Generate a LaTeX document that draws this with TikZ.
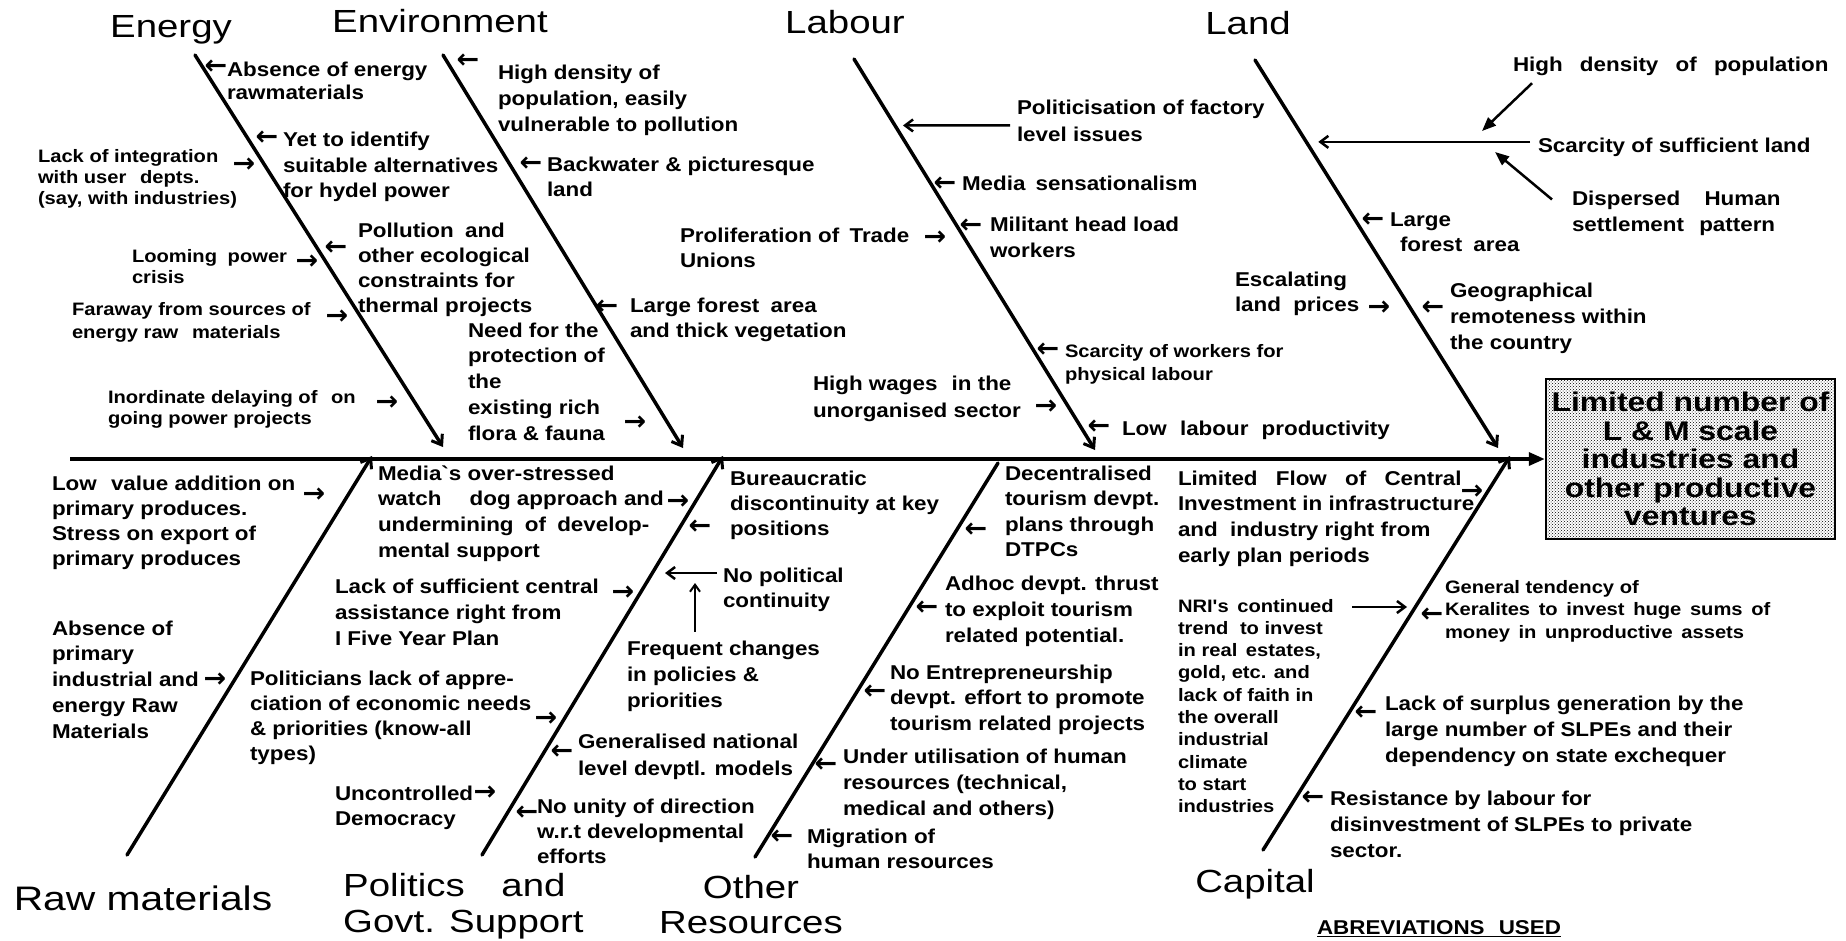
\documentclass[tikz,border=0pt]{standalone}
\usepackage{fontspec}
\setmainfont{Liberation Sans}
\newfontfamily\bodyf{Liberation Sans}[FakeStretch=1.12]
\newfontfamily\headf{Liberation Sans}[FakeStretch=1.2]
\newfontfamily\boxf{Liberation Sans}[FakeStretch=1.18]
\newfontfamily\arrf{DejaVu Sans}
\usetikzlibrary{arrows.meta,patterns}
\newcommand\nf[2]{\bodyf\bfseries\fontsize{#1}{#2}\selectfont}
\newcommand\wgap[1]{\hspace*{#1pt}}
\begin{document}
\begin{tikzpicture}[x=1pt,y=-1pt,
 bone/.style={line width=3.5pt, line cap=round},
 bonearr/.style={bone, -{Straight Barb[length=9pt,width=13pt,line width=3pt]}},
 txt/.style={anchor=north west, inner sep=0pt, outer sep=0pt, align=left},
 arrg/.style={inner sep=0pt, font=\arrf\bfseries\fontsize{27}{27}\selectfont},
 head/.style={inner sep=0pt, anchor=base, font=\headf\fontsize{32}{38}\selectfont},
 subarr/.style={line width=2.5pt, -{Straight Barb[length=8pt,width=12pt,line width=2.5pt]}},
 solidarr/.style={line width=2.5pt, -{Triangle[length=14pt,width=11pt]}},
 effect/.style={draw, line width=2.5pt, pattern=crosshatch dots, minimum width=289pt, minimum height=160pt, inner sep=0pt, align=center, font=\boxf\bfseries\fontsize{27}{28.5}\selectfont}
]
\useasboundingbox (0,0) rectangle (1846,940);

% bone end points
\coordinate (enT) at (195,55);   \coordinate (enB) at (443,447);
\coordinate (evT) at (443,55);   \coordinate (evB) at (683,448);
\coordinate (lbT) at (854,59);   \coordinate (lbB) at (1095,450);
\coordinate (ldT) at (1255,60);  \coordinate (ldB) at (1498,448);
\coordinate (rmB) at (127,855);  \coordinate (rmT) at (372,456);
\coordinate (pgB) at (482,855);  \coordinate (pgT) at (723,456);
\coordinate (orB) at (755,857);  \coordinate (orT) at (998,463);
\coordinate (cpB) at (1263,850); \coordinate (cpT) at (1510,456);

\draw[bonearr] (enT) -- (enB);
\draw[bonearr] (evT) -- (evB);
\draw[bonearr] (lbT) -- (lbB);
\draw[bonearr] (ldT) -- (ldB);
\draw[bonearr] (rmB) -- (rmT);
\draw[bonearr] (pgB) -- (pgT);
\draw[bone] (orB) -- (orT);
\draw[bonearr] (cpB) -- (cpT);

% effect box and spine
\node[effect] (eff) at (1690.5,459) {Limited number of\\L \& M scale\\industries and\\other productive\\ventures};
\coordinate (sp0) at (70,459);
\draw[line width=3.5pt, -{Triangle[length=16pt,width=13pt]}] (sp0) -- (eff.west);

% headings
\node[head] (hEn) at (171,37) {Energy};
\node[head] (hEv) at (440,32) {Environment};
\node[head] (hLb) at (845,33) {Labour};
\node[head] (hLd) at (1248,34) {Land};
\node[head, font=\headf\fontsize{34}{38}\selectfont] (hRm) at (143,910) {Raw materials};
\node[head, anchor=north west, align=left, font=\headf\fontsize{32}{36}\selectfont] (hPg) at (343,873) {Politics\wgap{26} and\\Govt. Support};
\node[head, anchor=north, align=center, font=\headf\fontsize{32}{35}\selectfont] (hOr) at (751,875) {Other\\Resources};
\node[head] (hCp) at (1255,892) {Capital};
\node[txt,font=\nf{20}{25}] (abbr) at (1317,921) {\underline{ABREVIATIONS\wgap{8} USED}};

% Energy
\node[txt,font=\nf{20}{23}] (absEn) at (227,62.5) {Absence of energy\\rawmaterials};
\node[arrg] (a1) at (216,67) {←};
\node[txt,font=\nf{20}{25.5}] (yet) at (283,132.5) {Yet to identify\\suitable alternatives\\for hydel power};
\node[arrg] (a2) at (267,138) {←};
\node[txt,font=\nf{18}{21.3}] (lint) at (38,149) {Lack of integration\\with user\wgap{8} depts.\\(say, with industries)};
\node[arrg] (a3) at (244,165) {→};
\node[txt,font=\nf{20}{25}] (poll) at (358,223.5) {Pollution\wgap{5} and\\other ecological\\constraints for\\thermal projects};
\node[arrg] (a4) at (336,248) {←};
\node[txt,font=\nf{18}{21}] (loom) at (132,249) {Looming\wgap{5} power\\crisis};
\node[arrg] (a5) at (307,262) {→};
\node[txt,font=\nf{18}{23}] (far) at (72,302) {Faraway from sources of\\energy raw\wgap{8} materials};
\node[arrg] (a6) at (337,317) {→};
\node[txt,font=\nf{18}{21}] (inord) at (108,390) {Inordinate delaying of\wgap{8} on\\going power projects};
\node[arrg] (a7) at (387,403) {→};

% Environment
\node[txt,font=\nf{20}{26}] (highd) at (498,65.5) {High density of\\population, easily\\vulnerable to pollution};
\node[arrg] (a8) at (468,61) {←};
\node[txt,font=\nf{20}{25}] (back) at (547,157.5) {Backwater \& picturesque\\land};
\node[arrg] (a9) at (531,164) {←};
\node[txt,font=\nf{20}{25}] (forest) at (630,298.5) {Large forest\wgap{5} area\\and thick vegetation};
\node[arrg] (a11) at (607,307) {←};
\node[txt,font=\nf{20}{25.8}] (need) at (468,322.5) {Need for the\\protection of\\the\\existing rich\\flora \& fauna};
\node[arrg] (a10b) at (635,423) {→};

% Labour
\node[txt,font=\nf{20}{25}] (prolif) at (680,228.5) {Proliferation of\wgap{4} Trade\\Unions};
\node[arrg] (a10) at (935,238) {→};
\node[txt,font=\nf{20}{27}] (polit) at (1017,100.5) {Politicisation of factory\\level issues};
\path (lbT) -- (lbB) coordinate[pos=0.17] (lb1);
\draw[subarr] ([xshift=-7pt,yshift=-4pt]polit.west) -- ([xshift=8pt]lb1);
\node[txt,font=\nf{20}{25}] (media) at (962,176.5) {Media\wgap{4} sensationalism};
\node[arrg] (a12) at (945,184) {←};
\node[txt,font=\nf{20}{26}] (milit) at (990,217.5) {Militant head load\\workers};
\node[arrg] (a13) at (971,226) {←};
\node[txt,font=\nf{18}{23}] (scw) at (1065,344) {Scarcity of workers for\\physical labour};
\node[arrg] (a17) at (1048,350) {←};
\node[txt,font=\nf{20}{27}] (wages) at (813,375.5) {High wages\wgap{8} in the\\unorganised sector};
\node[arrg] (a18) at (1046,407) {→};
\node[txt,font=\nf{20}{25}] (lowl) at (1122,420.5) {Low\wgap{7} labour\wgap{7} productivity};
\node[arrg] (a19) at (1099,427) {←};

% Land
\node[txt,font=\nf{20}{25}] (hdp) at (1513,57.5) {High\wgap{11} density\wgap{11} of\wgap{11} population};
\node[txt,font=\nf{20}{25}] (scarl) at (1538,138.5) {Scarcity of sufficient land};
\node[txt,font=\nf{20}{26}] (disp) at (1572,191.5) {Dispersed\wgap{18} Human\\settlement\wgap{9} pattern};
\path (ldT) -- (ldB) coordinate[pos=0.211] (ld1);
\draw[subarr] ([xshift=-8pt]scarl.west |- ld1) -- ([xshift=12pt]ld1);
\coordinate (hd1) at (1482,131);
\coordinate (dp1) at (1495,152);
\draw[solidarr] ([xshift=19pt,yshift=-7pt]hdp.south west) -- (hd1);
\draw[solidarr] ([xshift=-20pt,yshift=-8pt]disp.north west) -- (dp1);
\node[txt,font=\nf{20}{25}] (lfor) at (1390,212.5) {Large\\\wgap{10}forest\wgap{5} area};
\node[arrg] (a14) at (1373,220) {←};
\node[txt,font=\nf{20}{25}] (escal) at (1235,272.5) {Escalating\\land\wgap{6} prices};
\node[arrg] (a16) at (1379,308) {→};
\node[txt,font=\nf{20}{26}] (geo) at (1450,283.5) {Geographical\\remoteness within\\the country};
\node[arrg] (a15) at (1433,308) {←};

% Raw materials
\node[txt,font=\nf{20}{25}] (lowv) at (52,475.5) {Low\wgap{8} value addition on\\primary produces.\\Stress on export of\\primary produces};
\node[arrg] (a26) at (314,495) {→};
\node[txt,font=\nf{20}{25.8}] (absp) at (52,620.5) {Absence of\\primary\\industrial and\\energy Raw\\Materials};
\node[arrg] (a28) at (215,680) {→};

% Politics and Govt. Support
\node[txt,font=\nf{20}{25.7}] (mediao) at (378,465.5) {Media`s over-stressed\\watch\wgap{22} dog approach and\\undermining\wgap{5} of\wgap{5} develop-\\mental support};
\node[arrg] (a27b) at (678,502) {→};
\node[txt,font=\nf{20}{26}] (lacks) at (335,578.5) {Lack of sufficient central\\assistance right from\\I Five Year Plan};
\node[arrg] (a27) at (623,593) {→};
\node[txt,font=\nf{20}{25}] (politic) at (250,670.5) {Politicians lack of appre-\\ciation of economic needs\\\& priorities (know-all\\types)};
\node[arrg] (a29) at (546,719) {→};
\node[txt,font=\nf{20}{25}] (uncon) at (335,785.5) {Uncontrolled\\Democracy};
\node[arrg] (a30) at (485,793) {→};
\node[txt,font=\nf{20}{25}] (bur) at (730,470.5) {Bureaucratic\\discontinuity at key\\positions};
\node[arrg] (a31b) at (700,527) {←};
\node[txt,font=\nf{20}{25}] (nopol) at (723,567.5) {No political\\continuity};
\coordinate (np1) at (665,573);
\draw[subarr] ([xshift=-6pt,yshift=-5.5pt]nopol.north west) -- (np1);
\node[txt,font=\nf{20}{26}] (freq) at (627,640.5) {Frequent changes\\in policies \&\\priorities};
\coordinate (vf) at (695,583);
\draw[line width=2pt, -{Straight Barb[length=7pt,width=10pt,line width=2pt]}] ([yshift=9pt]freq.north -| vf) -- (vf);
\node[txt,font=\nf{20}{27}] (gen) at (578,733.5) {Generalised national\\level devptl. models};
\node[arrg] (a31) at (562,752) {←};
\node[txt,font=\nf{20}{25}] (nouni) at (537,798.5) {No unity of direction\\w.r.t developmental\\efforts};
\node[arrg] (a32) at (527,813) {←};

% Other Resources
\node[txt,font=\nf{20}{25.5}] (dec) at (1005,465.5) {Decentralised\\tourism devpt.\\plans through\\DTPCs};
\node[arrg] (a20) at (976,530) {←};
\node[txt,font=\nf{20}{26}] (adhoc) at (945,575.5) {Adhoc devpt. thrust\\to exploit tourism\\related potential.};
\node[arrg] (a21) at (927,608) {←};
\node[txt,font=\nf{20}{25.5}] (noent) at (890,664.5) {No Entrepreneurship\\devpt. effort to promote\\tourism related projects};
\node[arrg] (a33) at (875,692) {←};
\node[txt,font=\nf{20}{26}] (under) at (843,748.5) {Under utilisation of human\\resources (technical,\\medical and others)};
\node[arrg] (a34) at (826,765) {←};
\node[txt,font=\nf{20}{25}] (migr) at (807,828.5) {Migration of\\human resources};
\node[arrg] (a35) at (782,837) {←};

% Capital
\node[txt,font=\nf{20}{25.7}] (limf) at (1178,470.5) {Limited\wgap{12} Flow\wgap{12} of\wgap{12} Central\\Investment in infrastructure\\and\wgap{6} industry right from\\early plan periods};
\node[arrg] (a22) at (1472,492) {→};
\node[txt,font=\nf{18}{22.3}] (nri) at (1178,599) {NRI's\wgap{3} continued\\trend\wgap{6} to invest\\in real\wgap{3} estates,\\gold, etc. and\\lack of faith in\\the overall\\industrial\\climate\\to start\\industries};
\coordinate (nr1) at (1407,607);
\draw[subarr] ([xshift=174pt,yshift=-8pt]nri.north west) -- (nr1);
\node[txt,font=\nf{18}{22.5}] (gent) at (1445,580) {General tendency of\\Keralites\wgap{3} to\wgap{3} invest\wgap{3} huge\wgap{3} sums\wgap{3} of\\money\wgap{3} in\wgap{3} unproductive\wgap{3} assets};
\node[arrg] (a23) at (1432,615) {←};
\node[txt,font=\nf{20}{26}] (lacksur) at (1385,695.5) {Lack of surplus generation by the\\large number of SLPEs and their\\dependency on state exchequer};
\node[arrg] (a24) at (1366,713) {←};
\node[txt,font=\nf{20}{26}] (resist) at (1330,790.5) {Resistance by labour for\\disinvestment of SLPEs to private\\sector.};
\node[arrg] (a25) at (1313,798) {←};
\end{tikzpicture}
\end{document}
